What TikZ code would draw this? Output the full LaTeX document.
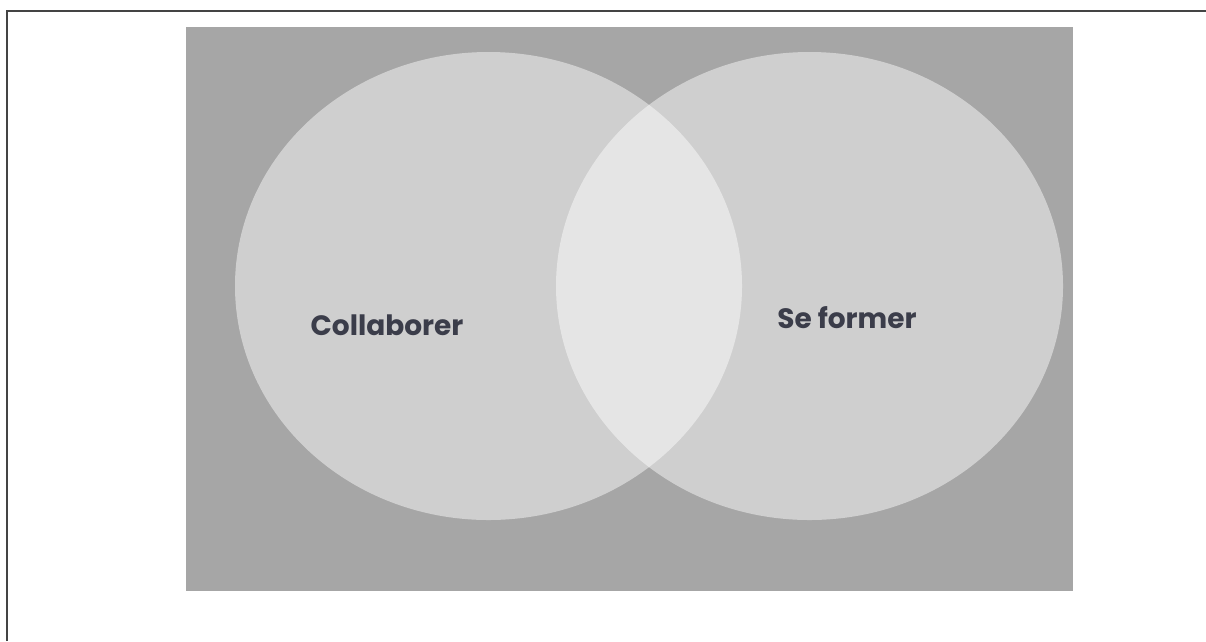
\documentclass[tikz,border=0pt]{standalone}
\usepackage{fontspec}
\setmainfont{Poppins}
\definecolor{bggray}{HTML}{A6A6A6}
\definecolor{frame}{HTML}{444444}
\definecolor{txt}{HTML}{3B3D4A}
\begin{document}
\begin{tikzpicture}[x=1pt,y=-1pt,
  setcircle/.style={fill=white,fill opacity=0.47,draw=none},
  setlabel/.style={text=txt,font=\bfseries\fontsize{28}{32}\selectfont,inner sep=0pt}]
\useasboundingbox (0,0) rectangle (1206,641);
\fill[white] (0,0) rectangle (1206,641);
\draw[frame,line width=2.6pt] (7,641) -- (7,11) -- (1206,11);
\fill[bggray] (186,27) rectangle (1073,591);
\fill[setcircle] (488.5,286) ellipse [x radius=253.5, y radius=234];
\fill[setcircle] (809.5,286) ellipse [x radius=253.5, y radius=234];
\node[setlabel] (collab) at (387,325) {Collaborer};
\node[setlabel] (former) at (847,318) {Se former};
\end{tikzpicture}
\end{document}
